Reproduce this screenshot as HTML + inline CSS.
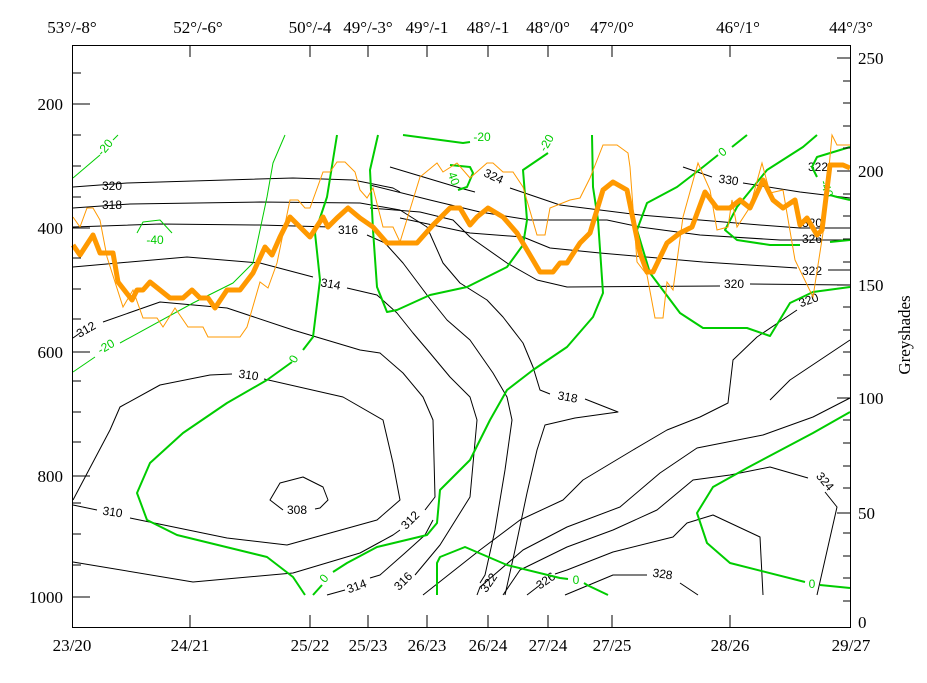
<!DOCTYPE html>
<html><head><meta charset="utf-8"><style>
html,body{margin:0;padding:0;background:#fff;}
svg{display:block;font-family:"Liberation Serif",serif;}
</style></head><body>
<svg width="927" height="683" viewBox="0 0 927 683" xmlns="http://www.w3.org/2000/svg">
<rect width="927" height="683" fill="#fff"/>
<!-- black contours -->
<g fill="none" stroke="#000" stroke-width="1" stroke-linejoin="round">
<path d="M73,187 L127,183 L293,178 L353,180 L393,188 L400,192"/>
<path d="M73,208 L130,204 L260,202 L360,203 L400,210 L427,227 L443,263 L460,283 L487,300 L503,317 L523,343 L533,367 L540,390 L550,394"/>
<path d="M585,399 L618,412 L575,418 L545,425 L537,450 L527,493 L515,550 L505,595"/>
<path d="M73,227 L160,224 L260,225 L330,227"/>
<path d="M367,235 L385,243 L403,263 L427,295 L447,320 L470,340 L493,373 L507,397 L512,420 L505,470 L495,530 L485,575 L480,583"/>
<path d="M73,267 L187,257 L260,263 L313,277"/>
<path d="M347,288 L377,295 L397,313 L413,333 L430,353 L450,377 L470,397 L477,420 L470,497 L440,545 L415,575"/>
<path d="M327,595 L345,590"/>
<path d="M73,338 L80,333"/>
<path d="M103,322 L160,302 L227,308 L293,330 L360,350 L380,353 L403,373 L423,397 L433,420 L435,497 L425,510"/>
<path d="M400,530 L393,535 L360,553 L293,573 L193,582 L73,562"/>
<path d="M73,500 L110,430 L120,407 L160,385 L210,375 L232,374"/>
<path d="M264,379 L343,397 L383,420 L393,463 L400,500 L377,520 L287,545 L227,538 L130,518"/>
<path d="M97,510 L73,505"/>
<path d="M283,510 L270,500 L280,483 L303,477 L323,487 L328,500 L320,508 L315,509"/>
<path d="M370,578 L380,575 L405,553 L425,535 L433,520"/>
<path d="M390,167 L460,188 L475,192"/>
<path d="M510,188 L560,205 L640,215 L700,220 L760,225 L800,228 L850,228"/>
<path d="M370,185 L430,200 L480,212 L530,220 L607,220 L640,227 L700,235 L780,240 L850,240"/>
<path d="M370,208 L420,212 L453,220 L470,237 L507,263 L537,280 L567,287 L720,286"/>
<path d="M750,284 L850,285"/>
<path d="M400,218 L470,233 L523,237 L550,248 L600,253 L703,262 L797,268"/>
<path d="M828,270 L850,270"/>
<path d="M683,167 L712,177"/>
<path d="M743,183 L800,192 L850,198"/>
<path d="M797,310 L757,337 L733,360 L728,403 L700,417 L667,430 L633,450 L583,480 L563,500 L520,520 L480,550 L423,595"/>
<path d="M850,398 L813,417 L763,435 L697,448 L660,473 L620,507 L567,527 L523,550 L480,587 L477,595"/>
<path d="M817,595 L837,507 L825,492"/>
<path d="M808,478 L770,467 L730,475 L693,480 L657,510 L613,530 L567,547 L520,570 L503,595"/>
<path d="M763,595 L760,537 L713,515 L687,523 L673,537 L613,552 L567,570 L555,574"/>
<path d="M540,585 L527,595"/>
<path d="M565,595 L613,575 L647,575"/>
<path d="M680,583 L698,595"/>
<path d="M850,340 L820,360 L790,380 L770,400"/>
</g>
<!-- contour labels -->
<g font-family="'Liberation Sans',sans-serif" font-size="12" fill="#000" text-anchor="middle">
<text x="112" y="190">320</text>
<text x="112" y="209">318</text>
<text x="348" y="234">316</text>
<text x="330" y="288" transform="rotate(10 330 288)">314</text>
<text x="88" y="333" transform="rotate(-30 88 333)">312</text>
<text x="248" y="379" transform="rotate(8 248 379)">310</text>
<text x="112" y="516" transform="rotate(8 112 516)">310</text>
<text x="297" y="514">308</text>
<text x="413" y="523" transform="rotate(-45 413 523)">312</text>
<text x="358" y="590" transform="rotate(-20 358 590)">314</text>
<text x="406" y="584" transform="rotate(-45 406 584)">316</text>
<text x="492" y="585" transform="rotate(-55 492 585)">322</text>
<text x="548" y="584" transform="rotate(-35 548 584)">326</text>
<text x="662" y="578" transform="rotate(8 662 578)">328</text>
<text x="567" y="401" transform="rotate(10 567 401)">318</text>
<text x="492" y="180" transform="rotate(25 492 180)">324</text>
<text x="728" y="184" transform="rotate(8 728 184)">330</text>
<text x="818" y="171">322</text>
<text x="812" y="227">320</text>
<text x="812" y="243">326</text>
<text x="812" y="275">322</text>
<text x="734" y="288">320</text>
<text x="810" y="304" transform="rotate(-20 810 304)">320</text>
<text x="822" y="484" transform="rotate(50 822 484)">324</text>
</g>
<!-- thin green -->
<g fill="none" stroke="#00cc00" stroke-width="1" stroke-linejoin="round">
<path d="M73,178 L100,155"/>
<path d="M113,140 L118,135"/>
<path d="M137,233 L143,222 L160,220 L172,233"/>
<path d="M73,372 L95,357"/>
<path d="M120,343 L193,303 L233,283 L253,263 L267,197 L273,163 L285,135"/>
</g>
<!-- thick green -->
<g fill="none" stroke="#00cc00" stroke-width="2" stroke-linejoin="round">
<path d="M337,135 L327,197 L315,233 L320,280 L313,337 L303,350"/>
<path d="M292,362 L267,380 L227,403 L183,433 L150,463 L137,493 L147,520 L177,535 L267,557 L293,577 L305,595"/>
<path d="M313,595 L322,585"/>
<path d="M333,572 L347,563 L377,547 L427,535 L437,523 L440,490 L470,460 L480,440 L490,420 L507,390 L533,370 L567,347 L593,317 L603,293 L598,220 L593,187 L592,135"/>
<path d="M378,135 L370,170 L373,230 L377,287 L387,312 L397,310 L430,295 L467,287 L507,267 L523,245 L527,220 L523,170 L548,153"/>
<path d="M403,135 L463,143 L470,142"/>
<path d="M458,190 L467,187 L473,173 L470,167 L450,165"/>
<path d="M437,595 L437,563 L440,557 L465,547 L507,565 L560,578 L568,579"/>
<path d="M584,583 L587,585 L608,595"/>
<path d="M718,155 L703,167 L677,187 L647,203 L637,230 L650,273 L680,313 L703,328 L747,328 L770,336 L790,303 L813,292 L850,287"/>
<path d="M732,147 L747,135"/>
<path d="M817,135 L803,147 L767,170 L737,207 L725,230 L737,240 L770,245 L800,245"/>
<path d="M830,242 L850,240"/>
<path d="M850,147 L817,157 L812,167 L817,177"/>
<path d="M830,195 L837,197 L850,200"/>
<path d="M850,412 L813,433 L747,468 L713,487 L697,513 L707,543 L730,563 L805,582"/>
<path d="M820,585 L850,588"/>
</g>
<g font-family="'Liberation Sans',sans-serif" font-size="12" fill="#00cc00" text-anchor="middle">
<text x="108" y="150" transform="rotate(-50 108 150)">-20</text>
<text x="155" y="244">-40</text>
<text x="108" y="350" transform="rotate(-30 108 350)">-20</text>
<text x="297" y="361" transform="rotate(-60 297 361)">0</text>
<text x="327" y="581" transform="rotate(-50 327 581)">0</text>
<text x="450" y="180" transform="rotate(70 450 180)">40</text>
<text x="482" y="141">-20</text>
<text x="550" y="145" transform="rotate(-60 550 145)">-20</text>
<text x="725" y="155" transform="rotate(-40 725 155)">0</text>
<text x="823" y="190" transform="rotate(70 823 190)">-40</text>
<text x="576" y="584">0</text>
<text x="812" y="588">0</text>
</g>
<!-- thin orange -->
<polyline fill="none" stroke="#ff9900" stroke-width="1" points="73,217 80,227 87,208 93,208 100,220 107,257 123,307 133,290 143,318 157,318 163,327 175,308 188,327 203,327 208,337 240,337 247,327 260,282 268,288 277,263 290,200 298,200 305,208 310,208 323,172 330,172 337,162 345,162 355,172 360,190 367,198 373,188 383,227 393,227 400,242 420,177 437,163 443,172 457,163 470,178 487,163 493,163 503,172 513,172 523,187 537,235 545,235 550,208 570,200 580,198 590,178 603,145 617,145 628,153 630,167 637,262 647,275 655,318 663,318 667,282 673,290 683,217 698,163 710,190 717,230 728,227 732,200 737,227 750,207 762,163 770,193 783,190 795,260 813,297 823,233 832,135 837,145 850,145"/>
<!-- thick orange -->
<polyline fill="none" stroke="#ff9900" stroke-width="5" stroke-linejoin="round" points="73,245 80,255 93,235 100,253 113,253 118,282 132,300 137,290 143,290 150,282 160,290 170,298 183,298 192,290 200,298 208,298 215,308 227,290 240,290 253,273 265,247 272,255 280,237 290,217 300,227 310,237 323,217 328,227 337,218 348,208 360,218 373,227 387,243 417,243 433,225 450,208 460,208 470,225 477,217 488,208 503,217 517,233 540,272 553,272 560,263 567,263 580,243 590,233 603,190 613,182 627,190 640,253 647,272 653,272 667,243 680,233 692,227 705,192 717,208 730,208 740,200 750,208 763,180 773,200 783,208 795,200 800,225 807,218 817,235 822,230 830,165 843,165 850,168"/>
<!-- frame -->
<rect x="72.5" y="45.5" width="778" height="582" fill="none" stroke="#000" stroke-width="1"/>
<g stroke="#000" stroke-width="1">
<path d="M73,73h8M73,104h17M73,135h8M73,166h8M73,197h8M73,228h17M73,258h8M73,289h8M73,319h8M73,352h17M73,381h8M73,412h8M73,442h8M73,476h17M73,503h8M73,534h8M73,565h8M73,597h17"/>
<path d="M850,58h-13M850,81h-7M850,103h-7M850,126h-7M850,148h-7M850,171h-13M850,194h-7M850,216h-7M850,239h-7M850,262h-7M850,285h-13M850,307h-7M850,330h-7M850,352h-7M850,375h-7M850,398h-13M850,420h-7M850,443h-7M850,466h-7M850,488h-7M850,513h-13M850,533h-7M850,556h-7M850,578h-7M850,601h-7"/>
<path d="M190,627v-12M310,627v-12M368,627v-12M427,627v-12M488,627v-12M548,627v-12M612,627v-12M730,627v-12"/>
<path d="M190,45v12M310,45v12M368,45v12M427,45v12M488,45v12M548,45v12M612,45v12M730,45v12"/>
</g>
<g font-size="17" fill="#000">
<g text-anchor="end"><text x="63" y="110">200</text><text x="63" y="234">400</text><text x="63" y="358">600</text><text x="63" y="482">800</text><text x="63" y="603">1000</text></g>
<g text-anchor="start"><text x="858" y="64">250</text><text x="858" y="177">200</text><text x="858" y="291">150</text><text x="858" y="404">100</text><text x="858" y="519">50</text><text x="858" y="628">0</text></g>
<text x="910" y="335" text-anchor="middle" transform="rotate(-90 910 335)">Greyshades</text>
<g text-anchor="middle"><text x="72" y="651">23/20</text><text x="190" y="651">24/21</text><text x="310" y="651">25/22</text><text x="368" y="651">25/23</text><text x="427" y="651">26/23</text><text x="488" y="651">26/24</text><text x="548" y="651">27/24</text><text x="612" y="651">27/25</text><text x="730" y="651">28/26</text><text x="851" y="651">29/27</text></g>
<g text-anchor="middle"><text x="72" y="33">53°/-8°</text><text x="198" y="33">52°/-6°</text><text x="310" y="33">50°/-4</text><text x="368" y="33">49°/-3°</text><text x="427" y="33">49°/-1</text><text x="488" y="33">48°/-1</text><text x="548" y="33">48°/0°</text><text x="612" y="33">47°/0°</text><text x="738" y="33">46°/1°</text><text x="851" y="33">44°/3°</text></g>
</g>
</svg>
</body></html>
